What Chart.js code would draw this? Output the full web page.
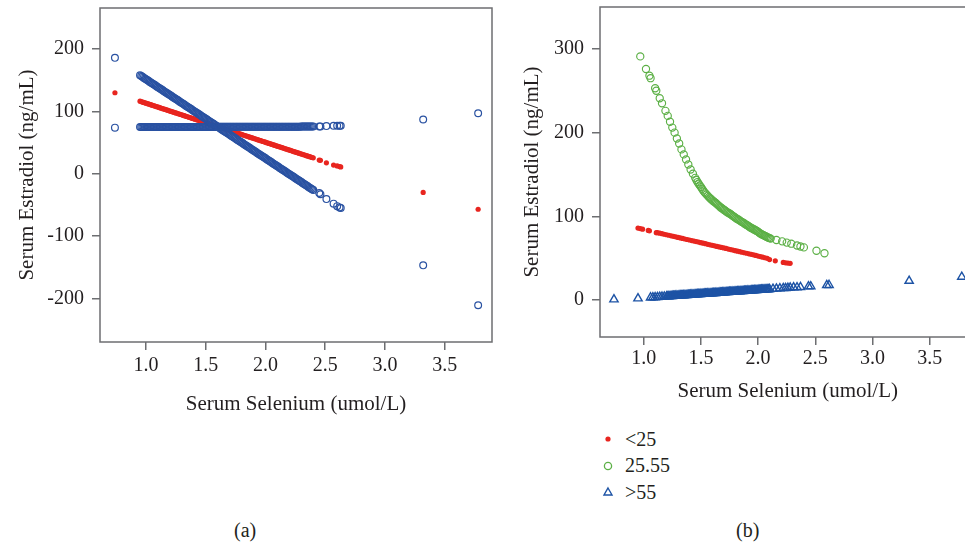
<!DOCTYPE html>
<html>
<head>
<meta charset="utf-8">
<script src="https://cdn.jsdelivr.net/npm/chart.js@4/dist/chart.umd.min.js"></script>
<style>
  html, body { margin: 0; padding: 0; background: #fff; overflow: hidden; width: 965px; height: 546px; }
  body { position: relative; font-family: 'Liberation Serif', 'DejaVu Serif', serif; color: #231f20; }
  canvas { position: absolute; top: 0; }
  #chartA { left: 0; }
  #chartB { left: 500px; }
  .panel { position: absolute; top: 519px; font-size: 20px; }
  #legendB { position: absolute; left: 600px; top: 426px; font-size: 20px; }
  #legendB div { height: 26.5px; display: flex; align-items: center; }
  #legendB svg { width: 16px; height: 14px; margin-right: 9px; }
</style>
</head>
<body>
<canvas id="chartA" width="500" height="420"></canvas>
<canvas id="chartB" width="500" height="420"></canvas>
<div id="legendB"></div>
<div class="panel" style="left:234px">(a)</div>
<div class="panel" style="left:736px">(b)</div>
<script>
// ---- data ----
const xTickValues = [1.0, 1.5, 2.0, 2.5, 3.0, 3.5];
const leftYTicks = [-200, -100, 0, 100, 200];
const rightYTicks = [0, 100, 200, 300];

// panel (a): the same selenium values for all three fitted series
const leftSelenium = [0.74,
  0.95, 0.96, 0.97, 0.98, 0.99, 1.00, 1.01, 1.02, 1.03, 1.04,
  1.05, 1.06, 1.07, 1.08, 1.09, 1.10, 1.11, 1.12, 1.13, 1.14,
  1.15, 1.16, 1.17, 1.18, 1.19, 1.20, 1.21, 1.22, 1.23, 1.24,
  1.25, 1.26, 1.27, 1.28, 1.29, 1.30, 1.31, 1.32, 1.33, 1.34,
  1.35, 1.36, 1.37, 1.38, 1.39, 1.40, 1.41, 1.42, 1.43, 1.44,
  1.45, 1.46, 1.47, 1.48, 1.49, 1.50, 1.51, 1.52, 1.53, 1.54,
  1.55, 1.56, 1.57, 1.58, 1.59, 1.60, 1.61, 1.62, 1.63, 1.64,
  1.65, 1.66, 1.67, 1.68, 1.69, 1.70, 1.71, 1.72, 1.73, 1.74,
  1.75, 1.76, 1.77, 1.78, 1.79, 1.80, 1.81, 1.82, 1.83, 1.84,
  1.85, 1.86, 1.87, 1.88, 1.89, 1.90, 1.91, 1.92, 1.93, 1.94,
  1.95, 1.96, 1.97, 1.98, 1.99, 2.00, 2.01, 2.02, 2.03, 2.04,
  2.05, 2.06, 2.07, 2.08, 2.09, 2.10, 2.11, 2.12, 2.13, 2.14,
  2.15, 2.16, 2.17, 2.18, 2.19, 2.20, 2.21, 2.22, 2.23, 2.24,
  2.25, 2.26, 2.27, 2.28, 2.29, 2.30, 2.31, 2.32, 2.33, 2.34,
  2.35, 2.36, 2.37, 2.38, 2.39, 2.40,
  2.45, 2.46, 2.51, 2.57, 2.60, 2.62, 2.63, 3.32, 3.78];
const leftSteep = [186,
  158.0, 156.7, 155.5, 154.2, 152.9, 151.7, 150.4, 149.1, 147.8, 146.6,
  145.3, 144.0, 142.8, 141.5, 140.2, 139.0, 137.7, 136.4, 135.1, 133.9,
  132.6, 131.3, 130.1, 128.8, 127.5, 126.3, 125.0, 123.7, 122.4, 121.2,
  119.9, 118.6, 117.4, 116.1, 114.8, 113.6, 112.3, 111.0, 109.7, 108.5,
  107.2, 105.9, 104.7, 103.4, 102.1, 100.9, 99.6, 98.3, 97.0, 95.8,
  94.5, 93.2, 92.0, 90.7, 89.4, 88.2, 86.9, 85.6, 84.3, 83.1,
  81.8, 80.5, 79.3, 78.0, 76.7, 75.5, 74.2, 72.9, 71.6, 70.4,
  69.1, 67.8, 66.6, 65.3, 64.0, 62.8, 61.5, 60.2, 58.9, 57.7,
  56.4, 55.1, 53.9, 52.6, 51.3, 50.1, 48.8, 47.5, 46.2, 45.0,
  43.7, 42.4, 41.2, 39.9, 38.6, 37.4, 36.1, 34.8, 33.5, 32.3,
  31.0, 29.7, 28.5, 27.2, 25.9, 24.7, 23.4, 22.1, 20.8, 19.6,
  18.3, 17.0, 15.8, 14.5, 13.2, 12.0, 10.7, 9.4, 8.1, 6.9,
  5.6, 4.3, 3.1, 1.8, 0.5, -0.7, -2.0, -3.3, -4.6, -5.8,
  -7.1, -8.4, -9.6, -10.9, -12.2, -13.4, -14.7, -16.0, -17.3, -18.5,
  -19.8, -21.1, -22.3, -23.6, -24.9, -26.1,
  -31, -33, -40.7, -48, -52, -54, -55, -147, -211];
const leftFlat = [74,
  75, 75, 75, 75, 75, 75, 75, 75, 75, 75,
  75, 75, 75, 75, 75, 75, 75, 75, 75, 75,
  75, 75, 75, 75, 75, 75, 75, 75, 75, 75,
  75, 75, 75, 75, 75, 75, 75, 75, 75, 75,
  75, 75, 75, 75, 75, 75, 75, 75, 75, 75,
  75, 75, 75, 75, 75, 75, 75, 75, 75, 75,
  75, 75, 75, 75, 75, 75.5, 75.5, 75.5, 75.5, 75.5,
  75.5, 75.5, 75.5, 75.5, 75.5, 75.5, 75.5, 75.5, 75.5, 75.5,
  75.5, 75.5, 75.5, 75.5, 75.5, 75.5, 75.5, 75.5, 75.5, 75.5,
  75.5, 75.5, 75.5, 75.5, 75.5, 75.5, 75.5, 75.5, 75.5, 75.5,
  75.5, 75.5, 75.5, 75.5, 75.5, 75.5, 75.5, 75.5, 75.5, 75.5,
  75.5, 75.5, 75.5, 75.5, 75.5, 75.5, 75.5, 75.5, 75.5, 75.5,
  75.5, 75.5, 75.5, 75.5, 75.5, 75.5, 75.5, 75.5, 75.5, 75.5,
  75.5, 75.5, 75.5, 75.5, 75.5, 76, 76, 76, 76, 76,
  76, 76, 76, 76, 76, 76,
  76, 76, 76.5, 77, 77, 77, 77, 87, 97];
const leftMean = [130,
  116.4, 115.8, 115.1, 114.5, 113.9, 113.3, 112.6, 112.0, 111.4, 110.8,
  110.1, 109.5, 108.9, 108.2, 107.6, 107.0, 106.4, 105.7, 105.1, 104.5,
  103.9, 103.2, 102.6, 102.0, 101.4, 100.7, 100.1, 99.5, 98.8, 98.2,
  97.6, 97.0, 96.3, 95.7, 95.1, 94.5, 93.8, 93.2, 92.6, 91.9,
  91.3, 90.7, 90.1, 89.4, 88.8, 88.2, 87.6, 86.9, 86.3, 85.7,
  85.1, 84.4, 83.8, 83.2, 82.5, 81.9, 81.3, 80.7, 80.0, 79.4,
  78.8, 78.2, 77.5, 76.9, 76.3, 75.6, 75.0, 74.4, 73.8, 73.1,
  72.5, 71.9, 71.3, 70.6, 70.0, 69.4, 68.7, 68.1, 67.5, 66.9,
  66.2, 65.6, 65.0, 64.4, 63.7, 63.1, 62.5, 61.8, 61.2, 60.6,
  60.0, 59.3, 58.7, 58.1, 57.5, 56.8, 56.2, 55.6, 54.9, 54.3,
  53.7, 53.1, 52.4, 51.8, 51.2, 50.6, 49.9, 49.3, 48.7, 48.1,
  47.4, 46.8, 46.2, 45.5, 44.9, 44.3, 43.7, 43.0, 42.4, 41.8,
  41.2, 40.5, 39.9, 39.3, 38.6, 38.0, 37.4, 36.8, 36.1, 35.5,
  34.9, 34.3, 33.6, 33.0, 32.4, 31.7, 31.1, 30.5, 29.9, 29.2,
  28.6, 28.0, 27.4, 26.7, 26.1, 25.5,
  22, 21.5, 17.5, 14, 12.5, 11.5, 11, -30, -57];

// panel (b): three groups
const groupLabels = ['<25', '25.55', '>55'];
const lowX = [0.95, 0.97, 0.99, 1.04, 1.05, 1.11, 1.12, 1.14, 1.16, 1.18, 1.20, 1.22, 1.24, 1.26, 1.28,
  1.30, 1.32, 1.34, 1.36, 1.38, 1.40, 1.42, 1.44, 1.46, 1.48, 1.50, 1.52, 1.54, 1.56, 1.58,
  1.60, 1.62, 1.64, 1.66, 1.68, 1.70, 1.72, 1.74, 1.76, 1.78, 1.80, 1.82, 1.84, 1.86, 1.88,
  1.90, 1.92, 1.94, 1.96, 1.98, 2.00, 2.02, 2.04, 2.06, 2.08, 2.10, 2.15, 2.22, 2.24, 2.26, 2.28];
const lowY = [86, 85.4, 84.7, 83.2, 82.8, 80.5, 80.6, 80.0, 79.4, 78.7, 78.1, 77.5, 76.8, 76.2, 75.6,
  74.9, 74.3, 73.7, 73.0, 72.4, 71.8, 71.1, 70.5, 69.9, 69.3, 68.6, 68.0, 67.4, 66.7, 66.1,
  65.5, 64.8, 64.2, 63.6, 62.9, 62.3, 61.7, 61.0, 60.4, 59.8, 59.1, 58.5, 57.9, 57.2, 56.6,
  56.0, 55.3, 54.7, 54.1, 53.4, 52.6, 52.0, 51.3, 50.6, 49.9, 48.5, 47, 45, 44.6, 44.3, 44];
const midX = [0.97, 1.02, 1.05, 1.06, 1.10, 1.11, 1.14, 1.16, 1.19, 1.21, 1.23, 1.25, 1.27, 1.29, 1.31,
  1.33, 1.35, 1.37, 1.39, 1.41, 1.43,
  1.45, 1.46, 1.47, 1.48, 1.49, 1.50, 1.51, 1.52, 1.53, 1.54,
  1.55, 1.56, 1.57, 1.58, 1.59, 1.60, 1.61, 1.62, 1.63, 1.64,
  1.65, 1.66, 1.67, 1.68, 1.69, 1.70, 1.71, 1.72, 1.73, 1.74,
  1.75, 1.76, 1.77, 1.78, 1.79, 1.80, 1.81, 1.82, 1.83, 1.84,
  1.85, 1.86, 1.87, 1.88, 1.89, 1.90, 1.91, 1.92, 1.93, 1.94,
  1.95, 1.96, 1.97, 1.98, 1.99, 2.00, 2.01, 2.02, 2.03, 2.04,
  2.05, 2.06, 2.07, 2.08, 2.09, 2.10, 2.11,
  2.16, 2.21, 2.25, 2.29, 2.34, 2.37, 2.40, 2.51, 2.58];
const midY = [291, 276, 268, 265, 253, 250, 241, 235, 226, 220, 213, 206, 200, 193, 187,
  180, 174, 168, 162, 156, 151,
  146, 143.5, 141, 139, 137, 135, 133, 131, 129, 127.5,
  126, 124.5, 123, 121.7, 120.5, 119.2, 118, 117, 116, 114.7,
  113.5, 112.2, 111, 110, 109, 108, 107, 106, 105, 104.2,
  103.5, 102.5, 101.5, 100.5, 99.5, 98.5, 97.5, 96.7, 96, 95,
  94, 93.2, 92.5, 91.5, 90.5, 89.7, 89, 88, 87, 86.2,
  85.5, 84.7, 84, 83.2, 82.5, 81.5, 80.5, 79.5, 78.7, 78,
  77.3, 76.6, 76, 75.2, 74.5, 74, 73.5,
  71.8, 70.2, 68.7, 67.4, 65.3, 64.1, 63, 59, 56];
const highX = [0.74, 0.95, 1.06, 1.08, 1.10, 1.12, 1.14, 1.16, 1.18,
  1.20, 1.21, 1.22, 1.23, 1.24, 1.25, 1.26, 1.27, 1.28, 1.29,
  1.30, 1.31, 1.32, 1.33, 1.34, 1.35, 1.36, 1.37, 1.38, 1.39,
  1.40, 1.41, 1.42, 1.43, 1.44, 1.45, 1.46, 1.47, 1.48, 1.49,
  1.50, 1.51, 1.52, 1.53, 1.54, 1.55, 1.56, 1.57, 1.58, 1.59,
  1.60, 1.61, 1.62, 1.63, 1.64, 1.65, 1.66, 1.67, 1.68, 1.69,
  1.70, 1.71, 1.72, 1.73, 1.74, 1.75, 1.76, 1.77, 1.78, 1.79,
  1.80, 1.81, 1.82, 1.83, 1.84, 1.85, 1.86, 1.87, 1.88, 1.89,
  1.90, 1.91, 1.92, 1.93, 1.94, 1.95, 1.96, 1.97, 1.98, 1.99,
  2.00, 2.01, 2.02, 2.03, 2.04, 2.05, 2.06, 2.07, 2.08, 2.09, 2.10,
  2.13, 2.16, 2.19, 2.22, 2.24, 2.26, 2.28, 2.31, 2.34, 2.37,
  2.44, 2.46, 2.60, 2.62, 3.32, 3.78];
const highY = [0.8, 2, 3.1, 3.2, 3.4, 3.6, 3.8, 4.0, 4.2,
  4.4, 4.5, 4.6, 4.7, 4.8, 4.9, 5.0, 5.1, 5.2, 5.3,
  5.4, 5.5, 5.6, 5.6, 5.7, 5.8, 5.9, 6.0, 6.1, 6.2,
  6.3, 6.4, 6.5, 6.6, 6.7, 6.8, 6.9, 7.0, 7.1, 7.2,
  7.3, 7.4, 7.5, 7.6, 7.7, 7.8, 7.9, 7.9, 8.0, 8.1,
  8.2, 8.3, 8.4, 8.5, 8.6, 8.7, 8.8, 8.9, 9.0, 9.1,
  9.2, 9.3, 9.4, 9.5, 9.6, 9.7, 9.8, 9.9, 10.0, 10.1,
  10.2, 10.2, 10.3, 10.4, 10.5, 10.6, 10.7, 10.8, 10.9, 11.0,
  11.1, 11.2, 11.3, 11.4, 11.5, 11.6, 11.7, 11.8, 11.9, 12.0,
  12.1, 12.2, 12.3, 12.4, 12.5, 12.6, 12.7, 12.7, 12.8, 12.9, 13.0,
  13.3, 13.6, 13.9, 14.2, 14.4, 14.6, 14.8, 15.1, 15.3, 15.6,
  16.3, 16.5, 17.8, 18.0, 23, 27.8];

// ---- helpers ----
const serif = "'Liberation Serif', 'DejaVu Serif', serif";
const ink = '#231f20';
const frameColor = '#6d6e71';
const pairs = (xs, ys) => xs.map((x, i) => ({ x: x, y: ys[i] }));

const framePlugin = {
  id: 'frame',
  afterDraw(chart) {
    const a = chart.chartArea, ctx = chart.ctx;
    ctx.save();
    ctx.strokeStyle = frameColor;
    ctx.lineWidth = 1.5;
    ctx.strokeRect(a.left, a.top, a.right - a.left, a.bottom - a.top);
    ctx.restore();
  }
};

function axes(opt) {
  return {
    x: {
      type: 'linear', min: opt.xMin, max: opt.xMax,
      afterFit: s => { s.height = opt.xHeight; s.paddingLeft = 0; s.paddingRight = 0; },
      afterBuildTicks: s => { s.ticks = xTickValues.map(v => ({ value: v })); },
      grid: { drawOnChartArea: false, tickLength: 8, color: frameColor, lineWidth: 1.5 },
      border: { display: false },
      ticks: { color: ink, font: { family: serif, size: 20 }, padding: opt.xPad, maxRotation: 0,
        callback: v => v.toFixed(1) },
      title: { display: true, text: 'Serum Selenium (umol/L)', color: ink,
        font: { family: serif, size: 21 }, padding: { top: 0, bottom: opt.xTitlePad } }
    },
    y: {
      type: 'linear', min: opt.yMin, max: opt.yMax,
      afterFit: s => { s.width = 100; s.paddingTop = 0; s.paddingBottom = 0; },
      afterBuildTicks: s => { s.ticks = opt.yTicks.map(v => ({ value: v })); },
      grid: { drawOnChartArea: false, tickLength: 8, color: frameColor, lineWidth: 1.5 },
      border: { display: false },
      ticks: { color: ink, font: { family: serif, size: 20 }, padding: 8, callback: v => String(v) },
      title: { display: true, text: 'Serum Estradiol (ng/mL)', color: ink,
        font: { family: serif, size: 21 }, padding: { top: opt.yTitlePad, bottom: 0 } }
    }
  };
}

const blue = '#2a52a2';
const red = '#e8251f';
const green = '#5cb046';
const triBlue = '#1d53a5';

new Chart(document.getElementById('chartA'), {
  type: 'scatter',
  data: {
    datasets: [
      { label: 'fit 1', data: pairs(leftSelenium, leftSteep), pointStyle: 'circle', pointRadius: 3.4,
        backgroundColor: 'rgba(0,0,0,0)', borderColor: blue, pointBorderWidth: 1.2 },
      { label: 'fit 2', data: pairs(leftSelenium, leftFlat), pointStyle: 'circle', pointRadius: 3.4,
        backgroundColor: 'rgba(0,0,0,0)', borderColor: blue, pointBorderWidth: 1.2 },
      { label: 'mean', data: pairs(leftSelenium, leftMean), pointStyle: 'circle', pointRadius: 2.6,
        backgroundColor: red, borderColor: red, pointBorderWidth: 0 }
    ]
  },
  options: {
    responsive: false, animation: false, devicePixelRatio: 1,
    layout: { padding: { top: 8, right: 8, left: 0, bottom: 0 } },
    plugins: { legend: { display: false }, tooltip: { enabled: false } },
    scales: axes({ xMin: 0.615, xMax: 3.896, xHeight: 78, xPad: 4, xTitlePad: 3,
      yMin: -270, yMax: 266, yTicks: leftYTicks, yTitlePad: 15 })
  },
  plugins: [framePlugin]
});

const chartB = new Chart(document.getElementById('chartB'), {
  type: 'scatter',
  data: {
    datasets: [
      { label: groupLabels[0], data: pairs(lowX, lowY), pointStyle: 'circle', pointRadius: 2.6,
        backgroundColor: red, borderColor: red, pointBorderWidth: 0 },
      { label: groupLabels[1], data: pairs(midX, midY), pointStyle: 'circle', pointRadius: 3.6,
        backgroundColor: 'rgba(0,0,0,0)', borderColor: green, pointBorderWidth: 1.15 },
      { label: groupLabels[2], data: pairs(highX, highY), pointStyle: 'triangle', pointRadius: 4.8,
        backgroundColor: 'rgba(0,0,0,0)', borderColor: triBlue, pointBorderWidth: 1.4 }
    ]
  },
  options: {
    responsive: false, animation: false, devicePixelRatio: 1,
    layout: { padding: { top: 7, right: 24.5, left: 0, bottom: 0 } },
    plugins: { legend: { display: false }, tooltip: { enabled: false } },
    scales: axes({ xMin: 0.618, xMax: 3.9, xHeight: 83, xPad: 2, xTitlePad: 16,
      yMin: -44, yMax: 350, yTicks: rightYTicks, yTitlePad: 20 })
  },
  plugins: [framePlugin]
});

// legend for panel (b), built from the datasets
const marks = {
  circle: (c, filled) => filled
    ? `<circle cx="8" cy="7" r="2.6" fill="${c}"/>`
    : `<circle cx="8" cy="7" r="3.6" fill="none" stroke="${c}" stroke-width="1.3"/>`,
  triangle: c => `<polygon points="8,3 12,10 4,10" fill="none" stroke="${c}" stroke-width="1.4"/>`
};
document.getElementById('legendB').innerHTML = chartB.data.datasets.map(ds => {
  const filled = ds.backgroundColor !== 'rgba(0,0,0,0)';
  const svg = marks[ds.pointStyle](ds.borderColor, filled);
  return `<div><svg viewBox="0 0 16 14">${svg}</svg><span>${ds.label.replace('<', '&lt;').replace('>', '&gt;')}</span></div>`;
}).join('');
</script>
</body>
</html>
